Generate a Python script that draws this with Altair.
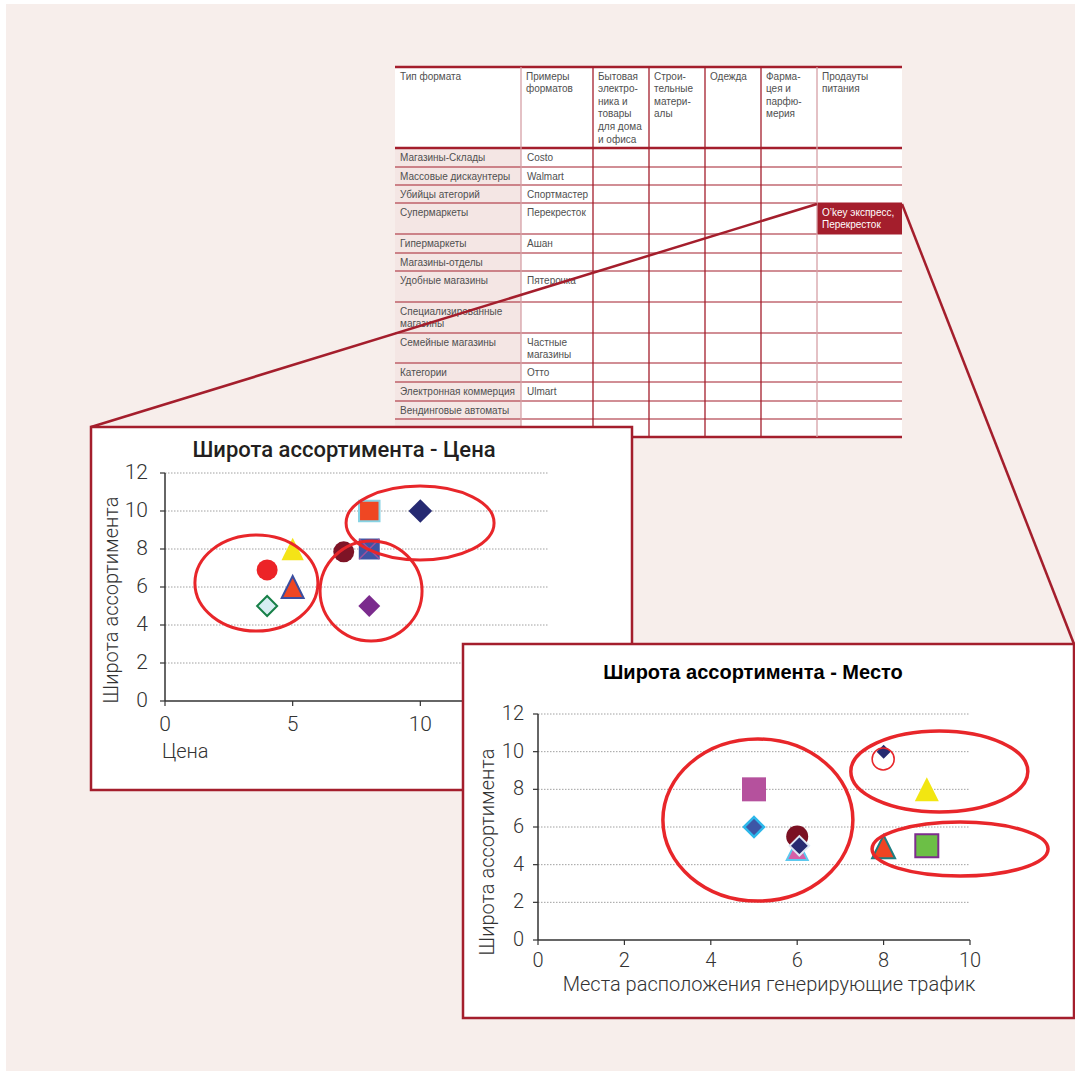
import altair as alt
import pandas as pd

W, H = 1075, 1076

# palette
PAGE_BG = "#f7eeeb"
TINT = "#f4e6e4"
BRAND = "#a41e2c"
RULE_SOFT = "#d6a0a6"
INK = "#231f20"
AXIS_INK = "#333333"
TABLE_INK = "#505050"
GRID = "#a0a0a0"
RING = "#e8262a"

DIN = "Roboto, Liberation Sans, sans-serif"
SANS = "Liberation Sans, Arial, sans-serif"

# ---------------- table content ----------------
header_labels = [
    "Тип формата",
    "Примеры\nформатов",
    "Бытовая\nэлектро-\nника и\nтовары\nдля дома\nи офиса",
    "Строи-\nтельные\nматери-\nалы",
    "Одежда",
    "Фарма-\nцея и\nпарфю-\nмерия",
    "Продауты\nпитания",
]
format_types = [
    "Магазины-Склады", "Массовые дискаунтеры", "Убийцы атегорий", "Супермаркеты",
    "Гипермаркеты", "Магазины-отделы", "Удобные магазины",
    "Специализированные\nмагазины", "Семейные магазины", "Категории",
    "Электронная коммерция", "Вендинговые автоматы", "",
]
format_examples = [
    "Costo", "Walmart", "Спортмастер", "Перекресток", "Ашан", "", "Пятерочка",
    "", "Частные\nмагазины", "Отто", "Ulmart", "", "",
]
food_highlight = "O’key экспресс,\nПерекресток"
highlight_row = 3  # Супермаркеты / Продауты питания

# table grid (pixels)
col_edges = [395, 521, 593, 649, 705, 761, 817, 902]
row_edges = [67, 148, 167, 185, 203, 234, 253, 271, 302, 333, 363, 382, 401, 419, 437]

# ---------------- chart 1: Широта ассортимента - Цена ----------------
TRI = "M0,-1L1,1L-1,1Z"
XMARK = "M-1,-1L1,1M-1,1L1,-1"

price = [4, 5, 5, 4, 7, 8, 8, 8, 10]
price_breadth = [6.9, 8, 6, 5, 7.85, 10, 8, 5, 10]
price_shape = ["circle", TRI, TRI, "diamond", "circle", "square", "square", "diamond", "diamond"]
price_fill = ["#ec2327", "#f4e417", "#ef4623", "#d6eef3", "#7e1426", "#ef4723", "#3e55a5", "#7b2b8d", "#262a72"]
price_stroke = ["#ec2327", "#f4e417", "#3b4ea0", "#178048", "#7e1426", "#86d3e4", "#3e55a5", "#7b2b8d", "#262a72"]
price_sw = [0, 0, 2, 2, 0, 2, 0, 0, 0]
price_size = [440, 500, 480, 400, 440, 420, 440, 480, 560]
cross_price, cross_breadth = [8], [8]

price_group_x = [3.58, 8.07, 9.99]
price_group_y = [6.21, 5.79, 9.37]
price_group_r = [(61.5, 48), (51, 50), (74, 37)]

price_ticks = [0, 5, 10, 15]
breadth_ticks = [0, 2, 4, 6, 8, 10, 12]

# ---------------- chart 2: Широта ассортимента - Место ----------------
traffic = [5, 5, 6, 6, 6.05, 8, 9, 8, 9]
traffic_breadth = [8, 6, 5.5, 4.8, 5, 10, 8, 4.95, 5]
traffic_shape = ["square", "diamond", "circle", TRI, "diamond", "diamond", TRI, TRI, "square"]
traffic_fill = ["#b5519d", "#3d56a6", "#7b1123", "#d560a8", "#272b70", "#272b70", "#f2e611", "#ef4423", "#6cbf46"]
traffic_stroke = ["#b5519d", "#2db7ea", "#7b1123", "#5cc9ef", "#dfe9f5", "#272b70", "#f2e611", "#1e7d80", "#7d2d8e"]
traffic_sw = [0, 2.5, 0, 2, 2, 0, 0, 2, 2]
traffic_size = [576, 400, 484, 440, 380, 196, 576, 529, 529]

traffic_group_x = [5.09, 9.29, 9.77, 7.99]
traffic_group_y = [6.37, 8.95, 4.83, 9.61]
traffic_group_r = [(95, 81), (88.5, 40.5), (88, 27), (11, 11)]
traffic_group_w = [3.5, 3.5, 3.5, 1.6]

traffic_ticks = [0, 2, 4, 6, 8, 10]

# ---------------- scales ----------------
PX = alt.Scale(domain=[0, W], range=[0, W], nice=False, zero=False)
PY = alt.Scale(domain=[0, H], range=[0, H], nice=False, zero=False)
S1X = alt.Scale(domain=[0, 15], range=[165, 548], nice=False, zero=False)
S1Y = alt.Scale(domain=[0, 12], range=[701, 473], nice=False, zero=False)
S2X = alt.Scale(domain=[0, 10], range=[538, 970], nice=False, zero=False)
S2Y = alt.Scale(domain=[0, 12], range=[940, 714], nice=False, zero=False)


def ellipse_path(rx, ry):
    m = max(rx, ry)
    a, b = rx / m, ry / m
    k = 0.5523
    f = lambda v: f"{v:.4f}"
    return (f"M{f(a)},0C{f(a)},{f(b*k)} {f(a*k)},{f(b)} 0,{f(b)}"
            f"C{f(-a*k)},{f(b)} {f(-a)},{f(b*k)} {f(-a)},0"
            f"C{f(-a)},{f(-b*k)} {f(-a*k)},{f(-b)} 0,{f(-b)}"
            f"C{f(a*k)},{f(-b)} {f(a)},{f(-b*k)} {f(a)},0Z")


def box(x0, x1, y0, y1, **style):
    df = pd.DataFrame({"x": [x0], "x2": [x1], "y": [y0], "y2": [y1]})
    return alt.Chart(df).mark_rect(**style).encode(
        x=alt.X("x:Q", scale=PX, axis=None), x2="x2:Q",
        y=alt.Y("y:Q", scale=PY, axis=None), y2="y2:Q")


def segments(x0, y0, x1, y1, color, width):
    df = pd.DataFrame({"x": x0, "y": y0, "x2": x1, "y2": y1, "c": color, "w": width})
    return alt.Chart(df).mark_rule().encode(
        x=alt.X("x:Q", scale=PX, axis=None), x2="x2:Q",
        y=alt.Y("y:Q", scale=PY, axis=None), y2="y2:Q",
        color=alt.Color("c:N", scale=None),
        strokeWidth=alt.StrokeWidth("w:Q", scale=None))


def ptext(xs, ys, texts, **style):
    df = pd.DataFrame({"x": xs, "y": ys, "t": texts})
    return alt.Chart(df).mark_text(lineBreak="\n", **style).encode(
        x=alt.X("x:Q", scale=PX, axis=None),
        y=alt.Y("y:Q", scale=PY, axis=None),
        text="t:N")


def markers(xs, ys, shapes, fills, strokes, widths, sizes, sx, sy):
    df = pd.DataFrame({"x": xs, "y": ys, "shape": shapes, "fill": fills,
                       "stroke": strokes, "sw": widths, "size": sizes})
    return alt.Chart(df).mark_point(filled=True, opacity=1).encode(
        x=alt.X("x:Q", scale=sx, axis=None),
        y=alt.Y("y:Q", scale=sy, axis=None),
        shape=alt.Shape("shape:N", scale=None),
        fill=alt.Fill("fill:N", scale=None),
        stroke=alt.Stroke("stroke:N", scale=None),
        strokeWidth=alt.StrokeWidth("sw:Q", scale=None),
        size=alt.Size("size:Q", scale=None))


def rings(xs, ys, radii, widths, sx, sy):
    df = pd.DataFrame({
        "x": xs, "y": ys,
        "shape": [ellipse_path(rx, ry) for rx, ry in radii],
        "size": [(2 * max(rx, ry)) ** 2 for rx, ry in radii],
        "sw": widths,
    })
    return alt.Chart(df).mark_point(filled=False, opacity=1, stroke=RING).encode(
        x=alt.X("x:Q", scale=sx, axis=None),
        y=alt.Y("y:Q", scale=sy, axis=None),
        shape=alt.Shape("shape:N", scale=None),
        size=alt.Size("size:Q", scale=None),
        strokeWidth=alt.StrokeWidth("sw:Q", scale=None))


def axes(sx, sy, xt, yt, x_label_y, y_label_x, font_size):
    x0, x1 = sx.domain[0], sx.domain[1]
    y1 = sy.domain[1]
    grid = alt.Chart(pd.DataFrame({"v": [v for v in yt if v > 0], "a": x0, "b": x1})).mark_rule(
        color=GRID, strokeDash=[1.5, 1.5], strokeWidth=1).encode(
        y=alt.Y("v:Q", scale=sy, axis=None),
        x=alt.X("a:Q", scale=sx, axis=None), x2="b:Q")
    lines = alt.Chart(pd.DataFrame({"x": [x0, x0], "x2": [x1, x0], "y": [0, 0], "y2": [0, y1]})).mark_rule(
        color=AXIS_INK, strokeWidth=1.5).encode(
        x=alt.X("x:Q", scale=sx, axis=None), x2="x2:Q",
        y=alt.Y("y:Q", scale=sy, axis=None), y2="y2:Q")
    y0_px = sy.range[0]
    x0_px = sx.range[0]
    xticks = alt.Chart(pd.DataFrame({"v": xt, "z": 0})).mark_rule(color=AXIS_INK, strokeWidth=1.2).encode(
        x=alt.X("v:Q", scale=sx, axis=None),
        y=alt.Y("z:Q", scale=sy, axis=None), y2=alt.value(y0_px + 5))
    yticks = alt.Chart(pd.DataFrame({"v": yt, "z": 0})).mark_rule(color=AXIS_INK, strokeWidth=1.2).encode(
        y=alt.Y("v:Q", scale=sy, axis=None),
        x=alt.X("z:Q", scale=sx, axis=None), x2=alt.value(x0_px - 5))
    xlab = alt.Chart(pd.DataFrame({"v": xt, "t": [str(v) for v in xt]})).mark_text(
        font=DIN, fontSize=font_size, fontWeight=300, color=AXIS_INK, baseline="middle", align="center").encode(
        x=alt.X("v:Q", scale=sx, axis=None), y=alt.value(x_label_y), text="t:N")
    ylab = alt.Chart(pd.DataFrame({"v": yt, "t": [str(v) for v in yt]})).mark_text(
        font=DIN, fontSize=font_size, fontWeight=300, color=AXIS_INK, baseline="middle", align="right").encode(
        y=alt.Y("v:Q", scale=sy, axis=None), x=alt.value(y_label_x), text="t:N")
    return [grid, lines, xticks, yticks, xlab, ylab]


layers = []

# page and table
layers.append(box(6, W, 4, 1071, fill=PAGE_BG))
layers.append(box(col_edges[0], col_edges[-1], row_edges[0], row_edges[-1], fill="white"))
layers.append(box(col_edges[0], col_edges[1], row_edges[1], row_edges[-1], fill=TINT))
layers.append(box(col_edges[6], col_edges[7], row_edges[highlight_row + 1], row_edges[highlight_row + 2], fill=BRAND))

h_w = [2.5 if y in (row_edges[0], row_edges[1], row_edges[-1]) else 1.2 for y in row_edges]
layers.append(segments([col_edges[0]] * len(row_edges), row_edges,
                       [col_edges[-1]] * len(row_edges), row_edges,
                       [BRAND] * len(row_edges), h_w))
inner_cols = col_edges[1:-1]
layers.append(segments(inner_cols, [row_edges[0]] * len(inner_cols),
                       inner_cols, [row_edges[-1]] * len(inner_cols),
                       [RULE_SOFT if c in (col_edges[1], col_edges[6]) else BRAND for c in inner_cols],
                       [1.3] * len(inner_cols)))

table_style = dict(font=SANS, fontSize=10, align="left", baseline="top", lineHeight=12.6)
layers.append(ptext([c + 5 for c in col_edges[:-1]], [row_edges[0] + 4.5] * 7, header_labels,
                    color=TABLE_INK, **table_style))
body_tops = [r + 4.5 for r in row_edges[1:-1]]
layers.append(ptext([col_edges[0] + 5] * len(format_types), body_tops, format_types,
                    color=TABLE_INK, **table_style))
layers.append(ptext([col_edges[1] + 6] * len(format_examples), body_tops, format_examples,
                    color=TABLE_INK, **table_style))
layers.append(ptext([col_edges[6] + 5], [row_edges[highlight_row + 1] + 4.5], [food_highlight],
                    color="white", **table_style))

# callout lines from the highlighted cell to the two panels
layers.append(segments([col_edges[6], col_edges[7]], [row_edges[highlight_row + 1] + 1] * 2,
                       [91, 1074], [427, 644], [BRAND, BRAND], [2.5, 2.5]))

# panel 1
layers.append(box(91, 632, 427, 790, fill="white", stroke=BRAND, strokeWidth=2.5))
layers.append(ptext([344], [450], ["Широта ассортимента - Цена"],
                    font=DIN, fontSize=22, fontWeight=500, color=INK, align="center", baseline="middle"))
layers += axes(S1X, S1Y, price_ticks, breadth_ticks, 725, 148, 21)
layers.append(ptext([162], [752], ["Цена"], font=DIN, fontSize=20, fontWeight=300, color=AXIS_INK,
                    align="left", baseline="middle"))
layers.append(ptext([112], [600], ["Широта ассортимента"], font=DIN, fontSize=20, fontWeight=300,
                    color=AXIS_INK, align="center", baseline="middle", angle=270))
layers.append(markers(price, price_breadth, price_shape, price_fill, price_stroke, price_sw, price_size, S1X, S1Y))
layers.append(markers(cross_price, cross_breadth, [XMARK], ["#3e55a5"], ["#a0509b"], [1.5], [400], S1X, S1Y))
layers.append(rings(price_group_x, price_group_y, price_group_r, [3, 3, 3], S1X, S1Y))

# panel 2
layers.append(box(463, 1074, 644, 1018, fill="white", stroke=BRAND, strokeWidth=2.5))
layers.append(ptext([753], [673], ["Широта ассортимента - Место"],
                    font=SANS, fontSize=20, fontWeight="bold", color="black", align="center", baseline="middle"))
layers += axes(S2X, S2Y, traffic_ticks, breadth_ticks, 961, 524, 20)
layers.append(ptext([769], [985], ["Места расположения генерирующие трафик"], font=DIN, fontSize=20,
                    fontWeight=300, color=AXIS_INK, align="center", baseline="middle"))
layers.append(ptext([488], [852], ["Широта ассортимента"], font=DIN, fontSize=20, fontWeight=300,
                    color=AXIS_INK, align="center", baseline="middle", angle=270))
layers.append(markers(traffic, traffic_breadth, traffic_shape, traffic_fill, traffic_stroke, traffic_sw,
                      traffic_size, S2X, S2Y))
layers.append(rings(traffic_group_x, traffic_group_y, traffic_group_r, traffic_group_w, S2X, S2Y))

chart = alt.layer(*layers).resolve_scale(x="independent", y="independent").properties(
    width=W, height=H, autosize=alt.AutoSizeParams(type="none"), padding=0, background="white"
).configure_view(stroke=None)

chart.save("out.html", embed_options={"renderer": "svg", "actions": False})
